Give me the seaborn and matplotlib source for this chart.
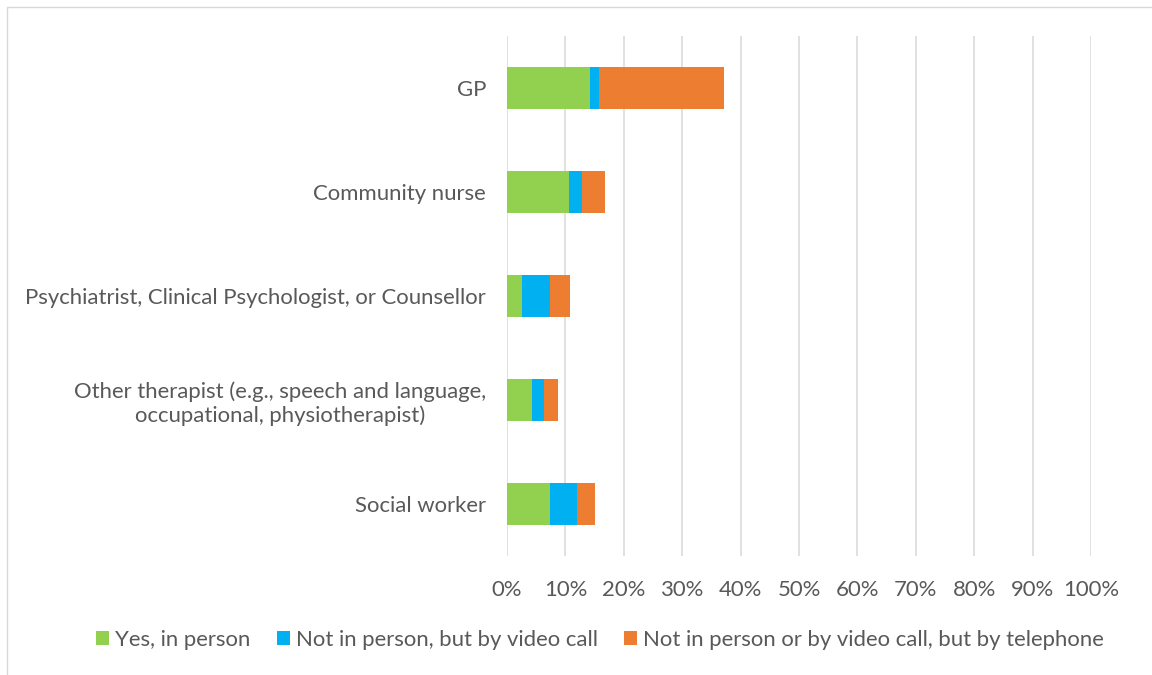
import matplotlib
matplotlib.use("Agg")
import matplotlib.pyplot as plt
import seaborn as sns
import pandas as pd
import numpy as np
from matplotlib.lines import Line2D
from matplotlib.patches import Patch

categories = [
    "GP",
    "Community nurse",
    "Psychiatrist, Clinical Psychologist, or Counsellor",
    "Other therapist (e.g., speech and language,\noccupational, physiotherapist)",
    "Social worker",
]
series_names = [
    "Yes, in person",
    "Not in person, but by video call",
    "Not in person or by video call, but by telephone",
]
in_person = [14.2, 10.7, 2.5, 4.3, 7.3]
video_call = [1.5, 2.1, 4.9, 2.1, 4.7]
telephone = [21.4, 4.0, 3.4, 2.3, 3.1]
colors = ["#92D050", "#00B0F0", "#ED7D31"]
x_ticks = list(range(0, 101, 10))
x_tick_labels = [f"{t}%" for t in x_ticks]

sns.set_theme(style="white")
plt.rcParams["font.family"] = ["Lato", "DejaVu Sans"]
text_color = "#595959"
fs = 15.9

fig = plt.figure(figsize=(11.52, 6.75), dpi=100)
ax = fig.add_axes([507 / 1152, 1 - 556 / 675, 584 / 1152, 520 / 675])

df = pd.DataFrame({
    "category": categories,
    "s1": in_person,
    "s2": video_call,
    "s3": telephone,
})
df["c1"] = df["s1"]
df["c2"] = df["s1"] + df["s2"]
df["c3"] = df["c2"] + df["s3"]

for col, color in zip(["c3", "c2", "c1"], colors[::-1]):
    sns.barplot(data=df, x=col, y="category", orient="h", color=color,
                width=0.4, ax=ax, saturation=1, edgecolor="none", zorder=3)

ax.set_xlim(0, 100)
ax.set_ylim(4.5, -0.5)
ax.set_xticks(x_ticks)
ax.set_xticklabels(x_tick_labels)
ax.set_xlabel("")
ax.set_ylabel("")
for s in ax.spines.values():
    s.set_visible(False)
ax.grid(axis="x", color="#d9d9d9", linewidth=1.1, zorder=0)
ax.grid(axis="y", visible=False)
ax.tick_params(axis="x", length=0, pad=17, labelsize=fs, labelcolor=text_color)
ax.tick_params(axis="y", length=0, pad=15, labelsize=fs, labelcolor=text_color)
for lbl in ax.get_yticklabels():
    lbl.set_multialignment("center")

handles = [Patch(facecolor=c, edgecolor="none") for c in colors]
fig.legend(handles, series_names, loc="center", bbox_to_anchor=(600 / 1152, 1 - 640 / 675),
           ncol=3, frameon=False, fontsize=fs, labelcolor=text_color,
           handlelength=0.6, handleheight=0.6, handletextpad=0.25, columnspacing=1.2)

# chart border (partially visible)
fig.add_artist(Line2D([7 / 1152, 7 / 1152], [0, 1 - 7 / 675], color="#d9d9d9", linewidth=1.0,
                      transform=fig.transFigure))
fig.add_artist(Line2D([7 / 1152, 1], [1 - 7 / 675, 1 - 7 / 675], color="#d9d9d9", linewidth=1.0,
                      transform=fig.transFigure))

fig.savefig("out.png", dpi=100)
